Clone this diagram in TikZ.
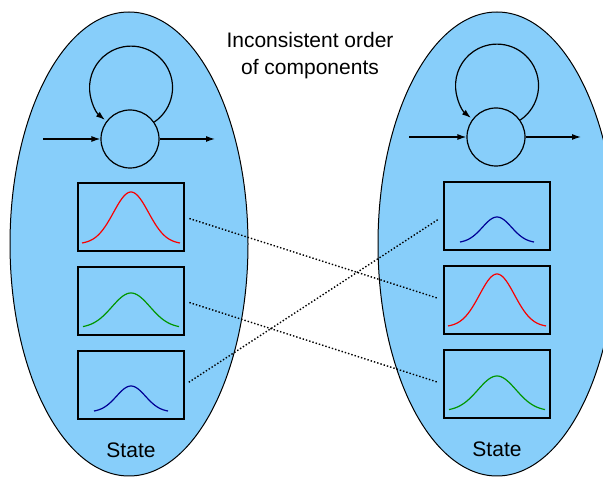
\documentclass[tikz,border=0pt]{standalone}
\usepackage{fontspec}
\setmainfont{Liberation Sans}
\usetikzlibrary{arrows.meta,positioning,shapes.geometric}

\definecolor{statefill}{RGB}{135,206,250}
\definecolor{bumpred}{RGB}{250,0,0}
\definecolor{bumpgreen}{RGB}{0,150,0}
\definecolor{bumpblue}{RGB}{0,0,150}

\tikzset{
  statecloud/.style={ellipse, draw, fill=statefill, line width=1pt, minimum width=238pt, minimum height=464pt, inner sep=0pt},
  cell/.style={circle, draw, line width=1.2pt, minimum size=58pt, inner sep=0pt},
  comp/.style={rectangle, draw, line width=1.2pt, minimum width=106pt, minimum height=68pt, inner sep=0pt},
  mixup/.style={dotted, line width=1.4pt, shorten <=5pt, shorten >=6pt},
  bigtext/.style={font=\fontsize{21}{27}\selectfont}
}

% gaussian bump in a component box: #1 box, #2 colour, #3 half width, #4 sigma, #5 height
\newcommand{\bump}[5]{
  \begin{scope}[shift={(#1.center)}]
    \draw[#2, line width=1.2pt, domain=-#3:#3, samples=60, smooth]
      plot (\x, {-27 + #5*exp(-(\x*\x)/(2*#4*#4))});
  \end{scope}
}

\begin{document}
\begin{tikzpicture}[x=1pt, y=1pt, node distance=84pt, on grid, >={Latex[length=9pt,width=6pt]}, line width=1.2pt]
  \useasboundingbox (0,0) rectangle (603,477);

  \node[statecloud] (stateA) at (129,233) {};
  \node[statecloud] (stateB) at (497,233) {};

  % recurrent cell
  \node[cell] (cellA) at (130,338) {};
  \coordinate[left=87pt of cellA] (inA);
  \coordinate[right=85pt of cellA] (outA);
  \draw[->] (inA) -- (cellA);
  \draw[->] (cellA) -- (outA);
  \draw[->] (cellA.35) arc[start angle=-56, end angle=231, radius=41.5];

  \node[cell] (cellB) at (496,340) {};
  \coordinate[left=87pt of cellB] (inB);
  \coordinate[right=85pt of cellB] (outB);
  \draw[->] (inB) -- (cellB);
  \draw[->] (cellB) -- (outB);
  \draw[->] (cellB.35) arc[start angle=-56, end angle=231, radius=41.5];

  % mixture components
  \node[comp] (compA1) at (131,260) {};
  \node[comp, below=of compA1] (compA2) {};
  \node[comp, below=of compA2] (compA3) {};
  \node[comp] (compB1) at (497,261) {};
  \node[comp, below=of compB1] (compB2) {};
  \node[comp, below=of compB2] (compB3) {};

  \bump{compA1}{bumpred}{49}{17.5}{52}
  \bump{compA2}{bumpgreen}{48}{19}{35}
  \bump{compA3}{bumpblue}{37}{14.5}{26}
  \bump{compB1}{bumpblue}{37}{14.5}{26}
  \bump{compB2}{bumpred}{49}{17.5}{53}
  \bump{compB3}{bumpgreen}{48}{19}{35}

  \draw[mixup] (compA1.east) -- (compB2.west);
  \draw[mixup] (compA2.east) -- (compB3.west);
  \draw[mixup] (compA3.east) -- (compB1.west);

  \node[bigtext, below=65pt of compA3] (labelA) {State};
  \node[bigtext, below=65pt of compB3] (labelB) {State};
  \node[bigtext, align=center] (title) at (310,421) {Inconsistent order\\of components};
\end{tikzpicture}
\end{document}
